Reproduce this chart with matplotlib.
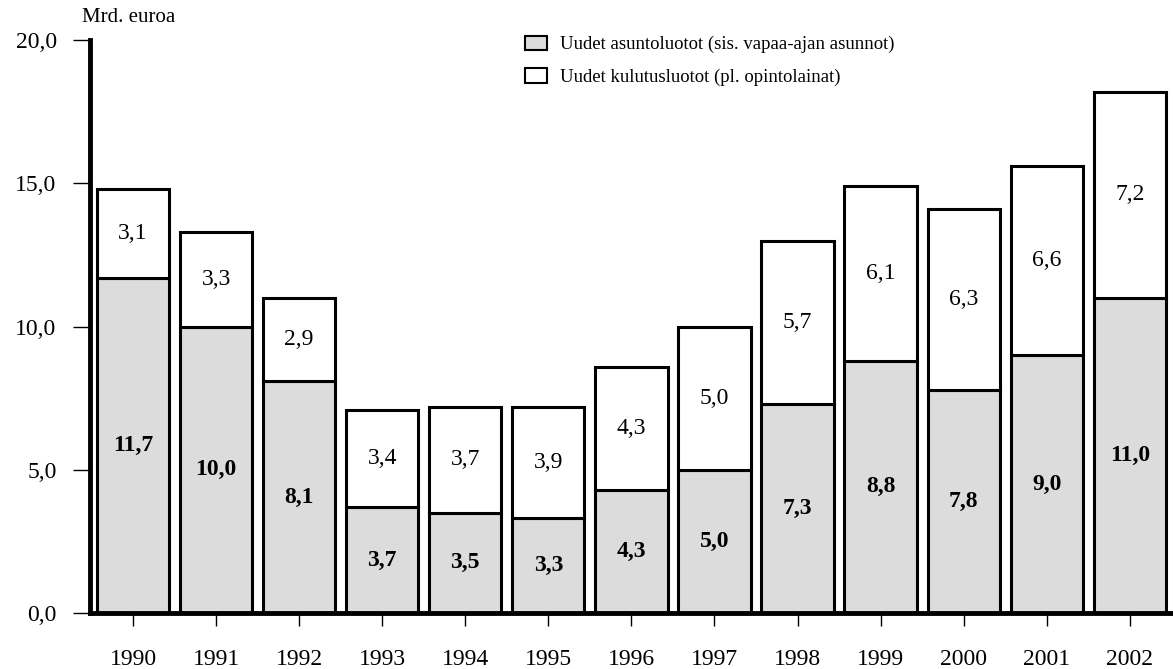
import matplotlib
matplotlib.use('Agg')
from matplotlib import pyplot
from matplotlib.patches import Patch
import numpy

# vuodet ja luottojen määrät (mrd. euroa)
years = ['1990', '1991', '1992', '1993', '1994', '1995', '1996',
         '1997', '1998', '1999', '2000', '2001', '2002']
housing = [11.7, 10.0, 8.1, 3.7, 3.5, 3.3, 4.3, 5.0, 7.3, 8.8, 7.8, 9.0, 11.0]
consumer = [3.1, 3.3, 2.9, 3.4, 3.7, 3.9, 4.3, 5.0, 5.7, 6.1, 6.3, 6.6, 7.2]
y_ticks = [0, 5, 10, 15, 20]
y_labels = ['0,0', '5,0', '10,0', '15,0', '20,0']

pyplot.rcParams['font.family'] = ['Liberation Serif', 'DejaVu Serif']

fig = pyplot.figure(figsize=(11.73, 6.69), dpi=100)
ax = fig.add_axes([0.0767, 0.0837, 0.9233, 0.8565])

x = numpy.arange(len(years))
width = 0.87
gray = '#dcdcdc'
ax.bar(x, housing, width, color=gray, edgecolor='black', linewidth=2.2)
ax.bar(x, consumer, width, bottom=housing, color='white',
       edgecolor='black', linewidth=2.2)

def fmt(v):
    return f'{v:.1f}'.replace('.', ',')

for i in range(len(years)):
    ax.text(x[i], housing[i] / 2, fmt(housing[i]), ha='center', va='center',
            fontsize=17, fontweight='bold')
    ax.text(x[i], housing[i] + consumer[i] / 2, fmt(consumer[i]),
            ha='center', va='center', fontsize=17)

ax.set_xlim(-0.518, 12.52)
ax.set_ylim(0, 20)
ax.set_xticks(x, years)
ax.set_yticks(y_ticks, y_labels)
ax.tick_params(axis='x', length=9, width=1, pad=17, labelsize=17)
ax.tick_params(axis='y', length=12, width=1, pad=12, labelsize=17)
for side in ['top', 'right']:
    ax.spines[side].set_visible(False)
ax.spines['left'].set_linewidth(3.5)
ax.spines['bottom'].set_linewidth(3.5)

fig.text(0.11, 0.988, 'Mrd. euroa', ha='center', va='top', fontsize=15)

handles = [Patch(facecolor=gray, edgecolor='black', linewidth=1.5),
           Patch(facecolor='white', edgecolor='black', linewidth=1.5)]
fig.legend(handles, ['Uudet asuntoluotot (sis. vapaa-ajan asunnot)',
                     'Uudet kulutusluotot (pl. opintolainat)'],
           loc='upper left', bbox_to_anchor=(0.433, 0.972), frameon=False,
           fontsize=13.5, handlelength=1.2, handleheight=0.8,
           handletextpad=0.7, labelspacing=0.8)

pyplot.savefig('out.png', dpi=100)
